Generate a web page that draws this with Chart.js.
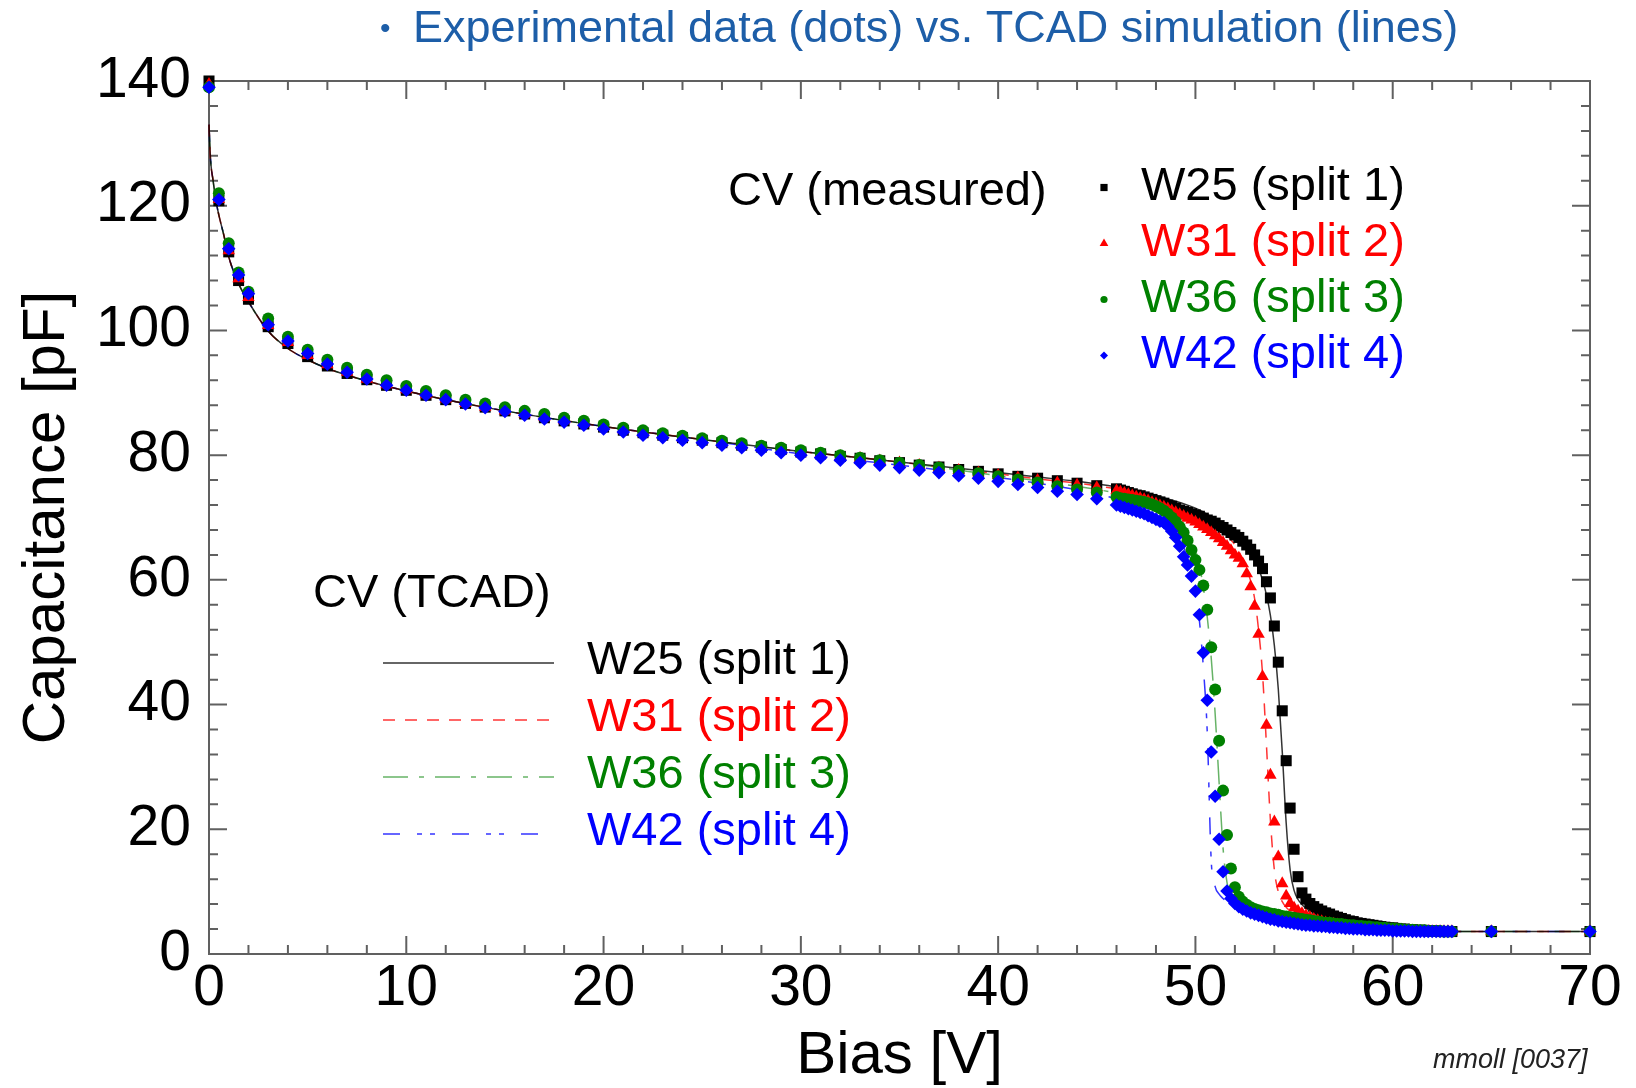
<!DOCTYPE html>
<html>
<head>
<meta charset="utf-8">
<title>CV curves</title>
<script src="https://cdn.jsdelivr.net/npm/chart.js@4.4.1/dist/chart.umd.min.js"></script>
<style>
  html, body { margin: 0; padding: 0; background: #fff; }
  #cv { display: block; }
</style>
</head>
<body>
<canvas id="cv" width="1636" height="1088"></canvas>
<script>
// ---------- axes ----------
const xTicks = [0, 10, 20, 30, 40, 50, 60, 70];
const yTicks = [0, 20, 40, 60, 80, 100, 120, 140];

// ---------- measured CV (dots) ----------
const biasMeas = [
  0, 0.5, 1, 1.5, 2, 3, 4, 5, 6, 7, 8, 9, 10, 11, 12, 13, 14, 15, 16, 17, 18, 19, 20,
  21, 22, 23, 24, 25, 26, 27, 28, 29, 30, 31, 32, 33, 34, 35, 36, 37, 38, 39, 40,
  41, 42, 43, 44, 45,
  46, 46.2, 46.4, 46.6, 46.8, 47, 47.2, 47.4, 47.6, 47.8,
  48, 48.2, 48.4, 48.6, 48.8, 49, 49.2, 49.4, 49.6, 49.8,
  50, 50.2, 50.4, 50.6, 50.8, 51, 51.2, 51.4, 51.6, 51.8,
  52, 52.2, 52.4, 52.6, 52.8, 53, 53.2, 53.4, 53.6, 53.8,
  54, 54.2, 54.4, 54.6, 54.8, 55, 55.2, 55.4, 55.6, 55.8,
  56, 56.2, 56.4, 56.6, 56.8, 57, 57.2, 57.4, 57.6, 57.8,
  58, 58.2, 58.4, 58.6, 58.8, 59, 59.2, 59.4, 59.6, 59.8,
  60, 60.2, 60.4, 60.6, 60.8, 61, 61.2, 61.4, 61.6, 61.8,
  62, 62.2, 62.4, 62.6, 62.8, 63,
  65, 70
];
const measW25 = [
  140.0, 120.8, 112.6, 108.0, 105.0,
  100.6, 97.9, 95.8, 94.3, 93.1, 92.1, 91.2, 90.4, 89.6, 88.9, 88.3, 87.7, 87.1, 86.6, 86.0,
  85.5, 85.0, 84.5, 84.0, 83.6, 83.2, 82.8, 82.4, 82.0, 81.6, 81.3, 80.9, 80.5, 80.2, 79.8,
  79.5, 79.1, 78.8, 78.4, 78.1, 77.7, 77.4, 77.0, 76.6, 76.3, 75.9, 75.5, 75.1,
  74.6, 74.4, 74.2, 74.0, 73.8, 73.6, 73.5, 73.3, 73.1, 72.9,
  72.7, 72.5, 72.3, 72.0, 71.8, 71.5, 71.2, 71.0, 70.8, 70.6,
  70.4, 70.2, 69.9, 69.6, 69.4, 69.1, 68.7, 68.4, 68.0, 67.6,
  67.2, 66.8, 66.2, 65.6, 64.9, 64.0, 63.0, 61.8, 59.7, 57.1,
  52.6, 46.8, 39.0, 31.0, 23.4, 16.8, 12.4, 9.8, 8.8, 8.1,
  7.6, 7.2, 6.9, 6.6, 6.4, 6.1, 5.9, 5.7, 5.5, 5.3,
  5.2, 5.0, 4.9, 4.8, 4.7, 4.6, 4.5, 4.4, 4.3, 4.2,
  4.2, 4.1, 4.0, 4.0, 3.9, 3.9, 3.8, 3.8, 3.8, 3.7,
  3.7, 3.7, 3.6, 3.6, 3.6, 3.6,
  3.6, 3.6
];
const measW31 = [
  139.5, 121.0, 112.8, 108.3, 105.3,
  100.8, 98.1, 96.0, 94.5, 93.3, 92.2, 91.3, 90.5, 89.7, 89.0, 88.3, 87.7, 87.1, 86.6, 86.1,
  85.6, 85.1, 84.6, 84.1, 83.6, 83.2, 82.8, 82.4, 82.0, 81.6, 81.3, 80.9, 80.5, 80.2, 79.8,
  79.5, 79.1, 78.8, 78.4, 78.0, 77.6, 77.2, 76.8, 76.4, 76.0, 75.6, 75.2, 74.8,
  74.3, 74.1, 73.9, 73.7, 73.5, 73.3, 73.1, 72.9, 72.7, 72.4,
  72.2, 71.9, 71.7, 71.4, 71.1, 70.8, 70.5, 70.2, 69.9, 69.6,
  69.3, 68.9, 68.5, 68.1, 67.6, 67.1, 66.6, 66.0, 65.4, 64.7,
  64.0, 63.5, 62.6, 61.0, 58.9, 55.8, 51.3, 44.5, 36.7, 28.7,
  21.2, 15.6, 11.3, 9.3, 8.1, 7.4, 6.9, 6.5, 6.2, 5.9,
  5.6, 5.4, 5.2, 5.0, 4.9, 4.8, 4.7, 4.6, 4.5, 4.4,
  4.3, 4.2, 4.2, 4.1, 4.0, 4.0, 3.9, 3.9, 3.8, 3.8,
  3.8, 3.7, 3.7, 3.7, 3.7, 3.6, 3.6, 3.6, 3.6, 3.6,
  3.6, 3.6, 3.6, 3.6, 3.6, 3.6,
  3.6, 3.6
];
const measW36 = [
  139.0, 122.0, 114.0, 109.3, 106.2,
  101.9, 99.0, 96.9, 95.3, 94.0, 92.9, 92.0, 91.1, 90.3, 89.6, 88.9, 88.3, 87.7, 87.1, 86.6,
  86.0, 85.5, 84.9, 84.4, 84.0, 83.5, 83.1, 82.7, 82.3, 81.9, 81.5, 81.2, 80.8, 80.4, 80.0,
  79.6, 79.2, 78.8, 78.4, 78.0, 77.5, 77.1, 76.6, 76.1, 75.6, 75.0, 74.5, 74.0,
  73.3, 73.1, 73.0, 72.9, 72.8, 72.7, 72.6, 72.5, 72.3, 72.1,
  71.8, 71.5, 71.1, 70.6, 70.0, 69.3, 68.5, 67.6, 66.3, 64.8,
  63.2, 61.6, 59.1, 55.2, 49.2, 42.4, 34.2, 26.2, 19.1, 13.7,
  10.7, 9.2, 8.4, 7.9, 7.5, 7.2, 7.0, 6.8, 6.7, 6.5,
  6.4, 6.3, 6.1, 6.0, 5.9, 5.8, 5.7, 5.6, 5.5, 5.4,
  5.3, 5.2, 5.1, 5.0, 5.0, 4.9, 4.8, 4.8, 4.7, 4.6,
  4.6, 4.5, 4.5, 4.4, 4.4, 4.3, 4.3, 4.2, 4.2, 4.1,
  4.1, 4.0, 4.0, 3.9, 3.9, 3.9, 3.8, 3.8, 3.8, 3.7,
  3.7, 3.7, 3.7, 3.6, 3.6, 3.6,
  3.6, 3.6
];
const measW42 = [
  139.0, 121.0, 113.1, 108.9, 105.9,
  100.9, 98.3, 96.3, 94.6, 93.3, 92.2, 91.2, 90.4, 89.6, 88.9, 88.2, 87.6, 87.0, 86.4, 85.8,
  85.3, 84.8, 84.2, 83.7, 83.2, 82.8, 82.4, 82.0, 81.6, 81.2, 80.8, 80.4, 80.0, 79.6, 79.2,
  78.8, 78.4, 78.0, 77.6, 77.2, 76.7, 76.3, 75.8, 75.3, 74.8, 74.2, 73.7, 73.0,
  72.0, 71.8, 71.6, 71.4, 71.2, 71.0, 70.8, 70.6, 70.3, 70.0,
  69.7, 69.4, 69.2, 68.6, 67.8, 66.8, 65.4, 63.7, 62.4, 60.6,
  58.2, 54.4, 48.3, 40.7, 32.4, 25.3, 18.4, 13.2, 10.1, 8.9,
  8.1, 7.6, 7.2, 6.9, 6.6, 6.4, 6.2, 6.0, 5.8, 5.6,
  5.5, 5.3, 5.2, 5.1, 5.0, 4.9, 4.8, 4.7, 4.6, 4.6,
  4.5, 4.5, 4.4, 4.4, 4.3, 4.3, 4.2, 4.2, 4.1, 4.1,
  4.0, 4.0, 4.0, 3.9, 3.9, 3.9, 3.8, 3.8, 3.8, 3.8,
  3.7, 3.7, 3.7, 3.7, 3.7, 3.6, 3.6, 3.6, 3.6, 3.6,
  3.6, 3.6, 3.6, 3.6, 3.6, 3.6,
  3.6, 3.6
];

// ---------- TCAD simulation (lines) ----------
const biasSim = [
  0, 0.05, 0.1, 0.2, 0.35, 0.5, 0.75, 1, 1.5, 2, 3, 4, 5, 6, 8, 10, 12, 15, 20, 25,
  30, 35, 40, 42, 44, 46, 47, 48, 49, 49.5, 50, 50.2, 50.4, 50.6, 50.8, 51, 51.2, 51.4, 51.6, 51.8,
  52, 52.5, 53, 53.2, 53.4, 53.6, 53.8, 54, 54.2, 54.4, 54.6, 54.8, 55, 55.5, 56, 57, 58, 60, 63, 70
];
const simW25 = [
  133, 129, 126.5, 124.2, 120.8, 118.5, 115.3, 111.8, 107.5, 104.6, 99.9, 97.1, 95.3, 93.9, 91.9, 90.3, 88.9, 87.1, 84.6, 82.5,
  80.6, 78.9, 77.2, 76.5, 75.8, 74.9, 74.3, 73.5, 72.6, 72.1, 71.5, 71.2, 70.9, 70.5, 70.1, 69.7, 69.3, 68.9, 68.4, 67.9,
  67.3, 65.6, 63.2, 61.8, 60.0, 57.6, 54.3, 49.5, 42.5, 32.5, 21.0, 13.5, 10.2, 7.6, 6.6, 5.4, 4.7, 4.0, 3.6, 3.6
];
const simW31 = [
  133, 129, 126.5, 124.2, 120.8, 118.5, 115.3, 111.8, 107.5, 104.6, 99.9, 97.1, 95.3, 93.9, 91.9, 90.3, 88.9, 87.1, 84.6, 82.5,
  80.6, 78.9, 77.0, 76.2, 75.5, 74.6, 74.0, 73.2, 72.2, 71.6, 70.9, 70.6, 70.2, 69.8, 69.3, 68.8, 68.3, 67.7, 67.1, 66.4,
  65.6, 62.5, 57.0, 52.0, 45.0, 33.5, 21.5, 13.5, 10.0, 8.4, 7.5, 6.9, 6.4, 5.6, 5.1, 4.5, 4.2, 3.8, 3.6, 3.6
];
const simW36 = [
  133, 129, 126.5, 124.2, 120.8, 118.5, 115.3, 111.8, 107.5, 104.6, 99.9, 97.1, 95.3, 93.9, 91.9, 90.3, 88.9, 87.1, 84.6, 82.5,
  80.6, 78.9, 76.7, 75.9, 75.0, 73.9, 73.1, 72.0, 70.2, 68.4, 64.8, 62.3, 58.8, 54.0, 47.5, 38.5, 27.5, 17.0, 11.5, 9.4,
  8.5, 7.4, 6.8, 6.6, 6.4, 6.2, 6.0, 5.9, 5.8, 5.7, 5.6, 5.5, 5.4, 5.2, 5.0, 4.6, 4.3, 3.9, 3.6, 3.6
];
const simW42 = [
  133, 129, 126.5, 124.2, 120.8, 118.5, 115.3, 111.8, 107.5, 104.6, 99.9, 97.1, 95.3, 93.9, 91.9, 90.3, 88.9, 87.1, 84.6, 82.5,
  80.2, 78.4, 76.4, 75.5, 74.4, 73.0, 72.0, 70.6, 67.6, 64.4, 58.0, 53.5, 46.0, 35.5, 15.0, 10.8, 9.6, 8.9, 8.4, 8.0,
  7.6, 6.9, 6.4, 6.2, 6.0, 5.9, 5.7, 5.6, 5.5, 5.4, 5.3, 5.2, 5.1, 4.9, 4.7, 4.3, 4.1, 3.8, 3.6, 3.6
];

const labels = ["W25 (split 1)", "W31 (split 2)", "W36 (split 3)", "W42 (split 4)"];
const colors = ["#000000", "#ff0000", "#008000", "#0000ff"];
const lineColors = ["rgba(0,0,0,0.8)", "rgba(255,0,0,0.8)", "rgba(0,128,0,0.6)", "rgba(0,0,255,0.8)"];
const dashes = [[], [12, 10], [25, 11, 5, 11], [17, 17, 5, 8, 5, 17]];
const markers = ["rect", "triangle", "circle", "rectRot"];
const markerSize = [7.8, 7.2, 6, 6.8];

const FONT = "'Liberation Sans', Arial, sans-serif";
Chart.defaults.font.family = FONT;

const pts = (xs, ys) => xs.map((v, i) => ({ x: v, y: ys[i] }));
const measured = [measW25, measW31, measW36, measW42];
const simulated = [simW25, simW31, simW36, simW42];

const datasets = [];
// dots: blue on top, black underneath
measured.forEach((ys, i) => {
  datasets.push({
    label: labels[i] + " meas",
    data: pts(biasMeas, ys),
    showLine: false,
    pointStyle: markers[i],
    pointRadius: markerSize[i],
    backgroundColor: colors[i],
    borderColor: colors[i],
    borderWidth: 0,
    order: 3 - i,
    clip: false,
  });
});
simulated.forEach((ys, i) => {
  datasets.push({
    label: labels[i] + " TCAD",
    data: pts(biasSim, ys),
    showLine: true,
    pointRadius: 0,
    borderColor: lineColors[i],
    borderWidth: 1.5,
    borderDash: dashes[i],
    cubicInterpolationMode: "monotone",
    order: 4 + i,
    clip: false,
  });
});

function txt(ctx, s, x, y, size, color, style) {
  ctx.font = (style ? style + " " : "") + size + "px " + FONT;
  ctx.fillStyle = color;
  ctx.textAlign = "left";
  ctx.textBaseline = "alphabetic";
  ctx.fillText(s, x, y);
}

function marker(ctx, kind, x, y, r, color) {
  ctx.fillStyle = color;
  ctx.beginPath();
  if (kind === "rect") ctx.rect(x - r, y - r, 2 * r, 2 * r);
  else if (kind === "triangle") {
    ctx.moveTo(x, y - r);
    ctx.lineTo(x + r * 0.87, y + r * 0.5);
    ctx.lineTo(x - r * 0.87, y + r * 0.5);
    ctx.closePath();
  } else if (kind === "circle") ctx.arc(x, y, r, 0, Math.PI * 2);
  else {
    ctx.moveTo(x, y - r); ctx.lineTo(x + r, y); ctx.lineTo(x, y + r); ctx.lineTo(x - r, y);
    ctx.closePath();
  }
  ctx.fill();
}

const frame = {
  id: "frame",
  beforeDatasetsDraw(chart) {
    const { ctx, chartArea: a, scales: { x, y } } = chart;
    ctx.save();
    ctx.strokeStyle = "#606060";
    ctx.lineWidth = 2;
    ctx.strokeRect(a.left, a.top, a.right - a.left, a.bottom - a.top);
    ctx.beginPath();
    for (let v = 0; v <= 70; v += 2) {
      const px = x.getPixelForValue(v);
      const len = v % 10 === 0 ? 18 : 9;
      ctx.moveTo(px, a.bottom); ctx.lineTo(px, a.bottom - len);
      ctx.moveTo(px, a.top); ctx.lineTo(px, a.top + len);
    }
    for (let v = 0; v <= 140; v += 4) {
      const py = y.getPixelForValue(v);
      const len = v % 20 === 0 ? 18 : 9;
      ctx.moveTo(a.left, py); ctx.lineTo(a.left + len, py);
      ctx.moveTo(a.right, py); ctx.lineTo(a.right - len, py);
    }
    ctx.stroke();
    ctx.restore();
  },
  afterDraw(chart) {
    const ctx = chart.ctx;
    ctx.save();
    // slide header
    txt(ctx, "\u2022", 380, 38, 30, "#1d5ea8");
    txt(ctx, "Experimental data (dots) vs. TCAD simulation (lines)", 413, 42, 45, "#1d5ea8");

    // measured legend
    txt(ctx, "CV (measured)", 728, 205, 47, "#000");
    labels.forEach((l, i) => {
      const base = 199.5 + i * 56;
      marker(ctx, markers[i], 1104, base - 12, [3.6, 5, 3.6, 4][i], colors[i]);
      txt(ctx, l, 1141, base, 47, colors[i]);
    });

    // TCAD legend
    txt(ctx, "CV (TCAD)", 313, 607, 47, "#000");
    labels.forEach((l, i) => {
      const base = 674 + i * 57;
      ctx.strokeStyle = lineColors[i];
      ctx.lineWidth = 1.5;
      ctx.setLineDash(dashes[i]);
      ctx.beginPath();
      ctx.moveTo(383, base - 11);
      ctx.lineTo(554, base - 11);
      ctx.stroke();
      ctx.setLineDash([]);
      txt(ctx, l, 587, base, 47, colors[i]);
    });

    txt(ctx, "mmoll [0037]", 1433, 1068, 27, "#222", "italic");
    ctx.restore();
  },
};

new Chart(document.getElementById("cv"), {
  type: "scatter",
  data: { datasets },
  options: {
    responsive: false,
    animation: false,
    devicePixelRatio: 1,
    layout: { padding: { top: 81, right: 46, left: 0, bottom: 0 } },
    plugins: { legend: { display: false }, tooltip: { enabled: false } },
    scales: {
      x: {
        type: "linear",
        min: 0,
        max: 70,
        afterBuildTicks: (s) => { s.ticks = xTicks.map((v) => ({ value: v })); },
        afterFit: (s) => { s.height = 134; },
        grid: { display: false, drawTicks: false },
        border: { display: false },
        ticks: { font: { size: 57 }, color: "#000", padding: 1, maxRotation: 0, autoSkip: false },
        title: { display: true, text: "Bias [V]", font: { size: 60 }, color: "#000", padding: { top: 0, bottom: -4 } },
      },
      y: {
        type: "linear",
        min: 0,
        max: 140,
        afterBuildTicks: (s) => { s.ticks = yTicks.map((v) => ({ value: v })); },
        afterFit: (s) => { s.width = 209; },
        grid: { display: false, drawTicks: false },
        border: { display: false },
        ticks: { font: { size: 57 }, color: "#000", padding: 18, autoSkip: false },
        title: { display: true, text: "Capacitance [pF]", font: { size: 60 }, color: "#000", padding: { top: 11, bottom: 0 } },
      },
    },
  },
  plugins: [frame],
});
</script>
</body>
</html>
